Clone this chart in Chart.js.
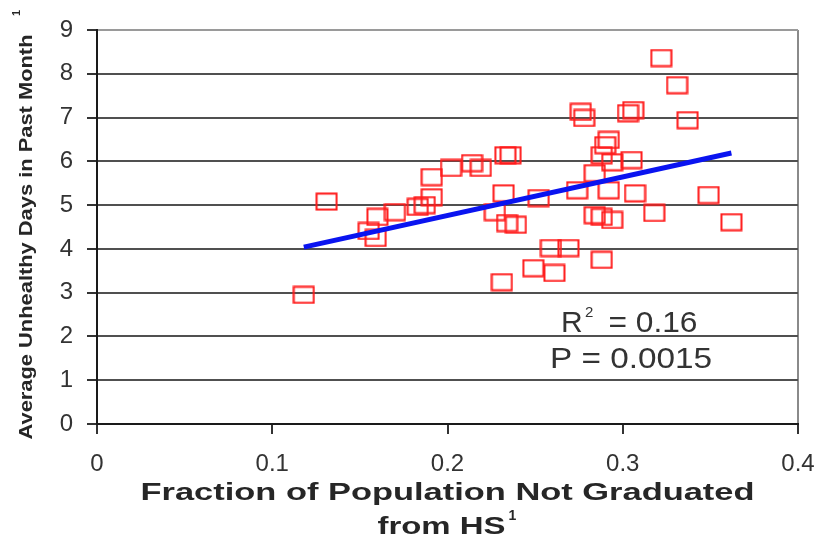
<!DOCTYPE html>
<html>
<head>
<meta charset="utf-8">
<script src="https://cdn.jsdelivr.net/npm/chart.js@4"></script>
<style>
  html, body { margin: 0; padding: 0; background: #fff; }
  #wrap { width: 823px; height: 550px; }
</style>
</head>
<body>
<div id="wrap"><canvas id="scatterChart" width="823" height="550"></canvas></div>
<script>
// fraction not graduated from high school
const xValues = [0.118, 0.131, 0.155, 0.159, 0.160, 0.170, 0.183, 0.187, 0.191, 0.191,
                 0.202, 0.214, 0.219, 0.233, 0.236, 0.232, 0.227, 0.234, 0.239, 0.252,
                 0.259, 0.269, 0.249, 0.261, 0.231, 0.276, 0.278, 0.306, 0.303, 0.292,
                 0.290, 0.288, 0.294, 0.305, 0.284, 0.274, 0.292, 0.307, 0.284, 0.288,
                 0.294, 0.288, 0.322, 0.331, 0.337, 0.318, 0.349, 0.362];
// average unhealthy days in past month
const yValues = [2.95, 5.08, 4.41, 4.25, 4.73, 4.84, 4.96, 5.00, 5.18, 5.64,
                 5.85, 5.96, 5.85, 6.14, 6.14, 5.27, 4.84, 4.59, 4.55, 5.16,
                 4.02, 4.02, 3.56, 3.45, 3.24, 7.13, 6.99, 7.17, 7.10, 6.49,
                 6.37, 6.14, 5.98, 6.03, 5.73, 5.34, 5.34, 5.27, 4.77, 4.73,
                 4.66, 3.75, 8.36, 7.74, 6.94, 4.82, 5.23, 4.61];
const trendX = [0.118, 0.362];
const trendY = [4.04, 6.19];
const xTickLabels = ['0', '0.1', '0.2', '0.3', '0.4'];
const yTickLabels = ['0', '1', '2', '3', '4', '5', '6', '7', '8', '9'];

document.addEventListener('DOMContentLoaded', () => {
    // hollow red box marker, a bit wider than tall like the original
    const marker = document.createElement('canvas');
    marker.width = 23;
    marker.height = 19;
    const mctx = marker.getContext('2d');
    mctx.strokeStyle = '#ff1a1a';
    mctx.lineWidth = 2;
    mctx.strokeRect(1.5, 1.5, 20, 16);

    // draw text squeezed/stretched to a given width
    const fitText = (ctx, text, x, y, target, font) => {
        ctx.font = font;
        const w = ctx.measureText(text).width;
        ctx.save();
        ctx.translate(x, y);
        ctx.scale(target / w, 1);
        ctx.fillText(text, 0, 0);
        ctx.restore();
    };

    const labelsPlugin = {
        id: 'labels',
        afterDraw(chart) {
            const ctx = chart.ctx;
            const area = chart.chartArea;
            const cx = (area.left + area.right) / 2;
            ctx.save();
            ctx.fillStyle = '#262626';
            ctx.textAlign = 'center';
            ctx.textBaseline = 'middle';

            // x axis title, two lines
            fitText(ctx, 'Fraction of Population Not Graduated', cx, 493, 614, 'bold 24px "Liberation Sans"');
            fitText(ctx, 'from HS', cx - 6, 527, 128, 'bold 24px "Liberation Sans"');
            ctx.font = 'bold 14px "Liberation Sans"';
            ctx.fillText('1', cx + 65, 516);

            // y axis title, rotated
            ctx.save();
            ctx.translate(27, 237);
            ctx.rotate(-Math.PI / 2);
            fitText(ctx, 'Average Unhealthy Days in Past Month', 0, 0, 405, 'bold 18px "Liberation Sans"');
            ctx.font = 'bold 11px "Liberation Sans"';
            ctx.fillText('1', 224, -10);
            ctx.restore();

            // fit statistics
            ctx.fillStyle = '#333';
            ctx.textAlign = 'left';
            ctx.font = '30px "Liberation Sans"';
            ctx.fillText('R', 561, 324);
            ctx.font = '15px "Liberation Sans"';
            ctx.fillText('2', 585, 313);
            ctx.textAlign = 'center';
            fitText(ctx, '= 0.16', 653, 324, 89, '30px "Liberation Sans"');
            fitText(ctx, 'P = 0.0015', 631, 360, 162, '30px "Liberation Sans"');
            ctx.restore();
        }
    };

    const ctxScatter = document.getElementById('scatterChart').getContext('2d');
    new Chart(ctxScatter, {
        type: 'scatter',
        data: {
            datasets: [{
                label: 'Counties',
                data: xValues.map((x, i) => ({ x: x, y: yValues[i] })),
                pointStyle: marker,
                order: 2
            }, {
                type: 'line',
                label: 'Trend',
                data: trendX.map((x, i) => ({ x: x, y: trendY[i] })),
                borderColor: '#0a14f0',
                borderWidth: 5,
                pointRadius: 0,
                fill: false,
                order: 1
            }]
        },
        options: {
            responsive: false,
            animation: false,
            layout: { padding: { left: 0, top: 30, right: 25, bottom: 0 } },
            plugins: {
                legend: { display: false },
                tooltip: { enabled: false }
            },
            scales: {
                x: {
                    type: 'linear',
                    min: 0,
                    max: 0.4,
                    afterBuildTicks: (scale) => {
                        scale.ticks = xTickLabels.map(Number).map(v => ({ value: v }));
                    },
                    afterFit: (scale) => {
                        scale.height = 126;
                        scale.paddingLeft = 0;
                        scale.paddingRight = 0;
                    },
                    border: { color: '#1a1a1a', width: 2 },
                    grid: {
                        color: (c) => (c.tick && c.tick.value === 0.4 ? '#8a8a8a' : 'rgba(0,0,0,0)'),
                        lineWidth: 2,
                        tickColor: '#333',
                        tickLength: 10
                    },
                    ticks: {
                        padding: 16,
                        color: '#333',
                        font: { family: '"Liberation Sans"', size: 24 },
                        maxRotation: 0,
                        callback: (v, i) => xTickLabels[i]
                    }
                },
                y: {
                    min: 0,
                    max: 9,
                    afterBuildTicks: (scale) => {
                        scale.ticks = yTickLabels.map(Number).map(v => ({ value: v }));
                    },
                    afterFit: (scale) => { scale.width = 97; },
                    border: { color: '#1a1a1a', width: 2 },
                    grid: {
                        color: (c) => (c.tick && c.tick.value === 9 ? '#9a9a9a' : '#505050'),
                        lineWidth: 2,
                        tickColor: '#333',
                        tickLength: 10
                    },
                    ticks: {
                        padding: 14,
                        color: '#333',
                        font: { family: '"Liberation Sans"', size: 24 },
                        callback: (v, i) => yTickLabels[i]
                    }
                }
            }
        },
        plugins: [labelsPlugin]
    });
});
</script>
</body>
</html>
